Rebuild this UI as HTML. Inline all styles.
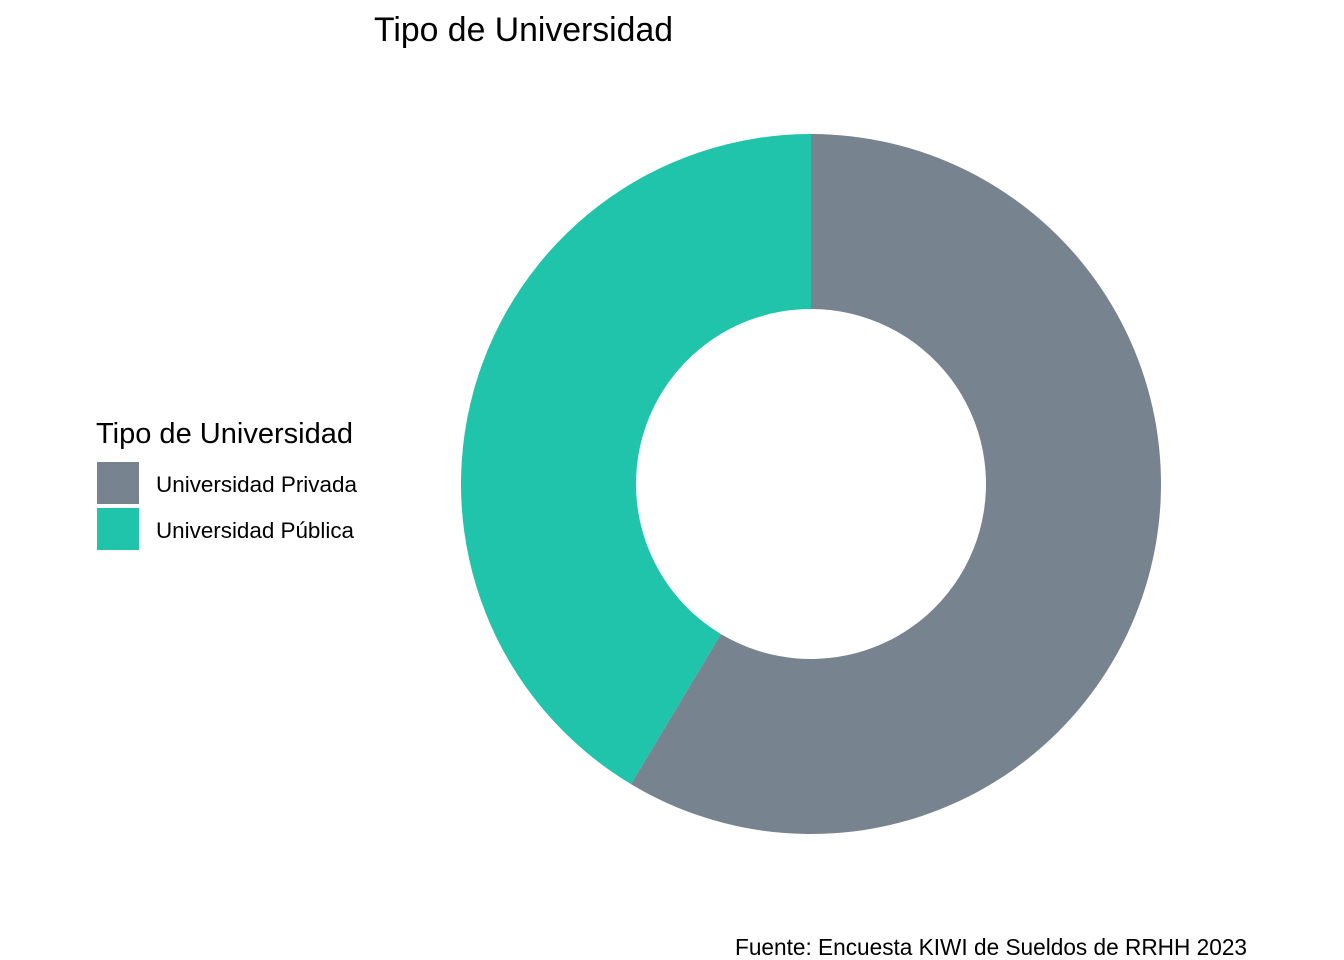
<!DOCTYPE html>
<html><head><meta charset="utf-8"><style>
body{margin:0;background:#fff;font-family:"Liberation Sans",sans-serif;}
svg{display:block}
</style></head><body>
<svg width="1344" height="960">
<text x="374" y="41" font-size="33.8" textLength="299" lengthAdjust="spacingAndGlyphs" fill="#000">Tipo de Universidad</text>
<g id="slices"></g>
<text x="96" y="443" font-size="29" textLength="257" lengthAdjust="spacingAndGlyphs" fill="#000">Tipo de Universidad</text>
<g id="legend"></g>
<text x="735" y="955" font-size="22.7" textLength="512" lengthAdjust="spacingAndGlyphs" fill="#000">Fuente: Encuesta KIWI de Sueldos de RRHH 2023</text>
</svg>
<script>
const categories = ["Universidad Privada", "Universidad Pública"];
const values = [58.6, 41.4];
const colors = ["#77838e", "#20c4aa"];
const labelWidths = [201, 198];
const cx = 811, cy = 484, R = 350, r = 175;
const ns = "http://www.w3.org/2000/svg";
const total = values.reduce((a,b)=>a+b,0);
const pt = (rad, a) => [cx + rad*Math.sin(a), cy - rad*Math.cos(a)];
let start = 0;
const g = document.getElementById('slices');
values.forEach((v,i)=>{
  const end = start + v/total*2*Math.PI;
  const large = (end-start) > Math.PI ? 1 : 0;
  const [x1,y1]=pt(R,start),[x2,y2]=pt(R,end),[x3,y3]=pt(r,end),[x4,y4]=pt(r,start);
  const p = document.createElementNS(ns,'path');
  p.setAttribute('d',`M${x1},${y1}A${R},${R} 0 ${large} 1 ${x2},${y2}L${x3},${y3}A${r},${r} 0 ${large} 0 ${x4},${y4}Z`);
  p.setAttribute('fill',colors[i]);
  
  
  g.appendChild(p);
  start = end;
});
const lg = document.getElementById('legend');
categories.forEach((c,i)=>{
  const y = 462 + i*46;
  const rect = document.createElementNS(ns,'rect');
  rect.setAttribute('x',97); rect.setAttribute('y',y); rect.setAttribute('width',42); rect.setAttribute('height',42);
  rect.setAttribute('fill',colors[i]);
  
  
  lg.appendChild(rect);
  const t = document.createElementNS(ns,'text');
  t.setAttribute('x',156); t.setAttribute('y',y+30); t.setAttribute('font-size',22.5);
  t.setAttribute('textLength',labelWidths[i]); t.setAttribute('lengthAdjust','spacingAndGlyphs');
  t.textContent = c;
  
  
  lg.appendChild(t);
});
</script>
</body></html>
